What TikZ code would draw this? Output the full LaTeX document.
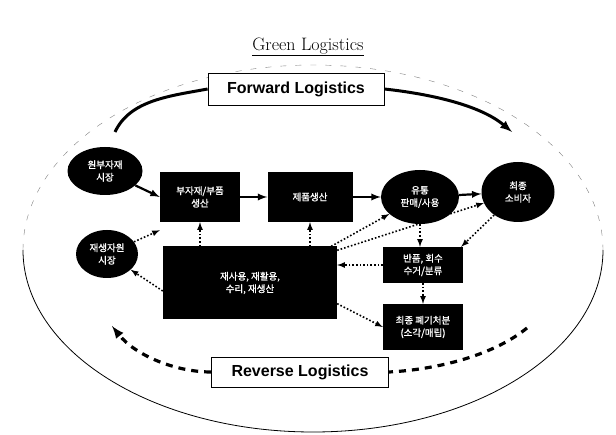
\documentclass[tikz,border=0pt]{standalone}
\usepackage{fontspec}
\newfontfamily\kor{Noto Sans CJK KR}[AutoFakeBold=1.2]
\newfontfamily\hv{Liberation Sans}
\usetikzlibrary{shapes.geometric}

\begin{document}
\begin{tikzpicture}[x=1pt,y=-1pt,>=latex]
        \useasboundingbox (0,0) rectangle (616,435);
        \tikzstyle{blk} = [rectangle,fill=black,text=white,align=center,font=\kor\bfseries\fontsize{9.5}{12.5}\selectfont,inner sep=0pt]
        \tikzstyle{oval} = [ellipse,fill=black,text=white,align=center,font=\kor\bfseries\fontsize{9.5}{12.5}\selectfont,inner sep=0pt]
        \tikzstyle{lbl} = [rectangle,draw,thick,fill=white,font=\hv\bfseries\fontsize{16}{18}\selectfont,inner sep=0pt]
        \tikzstyle{solid arrow} = [->,line width=2.2pt]
        \tikzstyle{dots} = [->,line width=1.6pt,dotted]
        \tikzstyle{shine} = [white,line width=0.8pt]
        % title and the frame
        \node (title) at (308,47) {\fontsize{18}{20}\selectfont\underline{Green Logistics}};
        \draw[gray,dash pattern=on 6pt off 9pt,thin] (23,250) arc[start angle=180,end angle=360,x radius=290,y radius=185];
        \draw[thick] (23,250) arc[start angle=180,end angle=0,x radius=290,y radius=182];
        % the two logistics labels
        \node[lbl,minimum width=176pt,minimum height=32pt] (fwd) at (296,89) {Forward Logistics};
        \node[lbl,minimum width=177pt,minimum height=30pt] (rev) at (300,372) {Reverse Logistics};
        \coordinate (fstart) at (115,132);
        \coordinate (fend) at (512,132);
        \coordinate (rstart) at (527,328);
        \coordinate (rend) at (112,326);
        \draw[line width=3pt] (fstart) .. controls (130,100) and (170,96) .. (fwd.west);
        \draw[line width=3pt,->] (fwd.east) .. controls (430,94) and (480,105) .. (fend);
        \draw[line width=3.2pt,dash pattern=on 7pt off 6pt] (rstart) .. controls (490,358) and (430,370) .. (rev.east);
        \draw[line width=3.2pt,dash pattern=on 7pt off 6pt,->] (rev.west) .. controls (175,372) and (135,355) .. (rend);
        % forward chain
        \node[oval,minimum width=75pt,minimum height=48pt] (mkt) at (105,171) {원부자재\\시장};
        \node[blk,minimum width=80pt,minimum height=50pt] (prt) at (200,197) {부자재/부품\\생산};
        \node[blk,minimum width=85pt,minimum height=50pt] (mfg) at (310,197) {제품생산};
        \node[oval,minimum width=78pt,minimum height=54pt] (dist) at (420,197) {유통\\판매/사용};
        \node[oval,minimum width=73pt,minimum height=60pt] (cons) at (518,192) {최종\\소비자};
        % reverse side
        \node[oval,minimum width=62pt,minimum height=48pt] (rmkt) at (107,254) {재생자원\\시장};
        \node[blk,minimum width=174pt,minimum height=73pt] (reuse) at (250,283) {재사용, 재활용,\\수리, 재생산};
        \node[blk,minimum width=80pt,minimum height=36pt] (ret) at (423,265) {반품, 회수\\수거/분류};
        \node[blk,minimum width=80pt,minimum height=46pt] (disp) at (423,327) {최종 폐기처분\\(소각/매립)};
        \draw[shine] ([shift={(4pt,4pt)}]reuse.north west) -- ([shift={(-4pt,4pt)}]reuse.north east);
        \draw[shine] ([shift={(4pt,4pt)}]ret.north west) -- ([shift={(-4pt,4pt)}]ret.north east);
        \draw[shine] ([shift={(4pt,4pt)}]disp.north west) -- ([shift={(-4pt,4pt)}]disp.north east);
        \draw[solid arrow] (mkt) -- (prt.west);
        \draw[solid arrow] (prt) -- (mfg);
        \draw[solid arrow] (mfg) -- (dist);
        \draw[solid arrow] (dist) -- (cons);
        \draw[dots] (reuse.north -| prt.south) -- (prt.south);
        \draw[dots] (reuse.north -| mfg.south) -- (mfg.south);
        \draw[dots] ([xshift=-6pt]reuse.north east) -- (dist);
        \draw[dots] ([yshift=-4pt]reuse.north east) -- (cons);
        \draw[dots] (dist.south) -- (ret.north -| dist.south);
        \draw[dots] (cons) -- ([xshift=-2pt]ret.north east);
        \draw[dots] (ret.west) -- (reuse.east |- ret.west);
        \draw[dots] (ret.south) -- (disp.north);
        \draw[dots] ([yshift=16pt]reuse.south east) -- (disp.west);
        \draw[dots] (rmkt) -- ([yshift=-8pt]prt.south west);
        \draw[dots] ([yshift=-8pt]reuse.west) -- (rmkt);
      \end{tikzpicture}
\end{document}
